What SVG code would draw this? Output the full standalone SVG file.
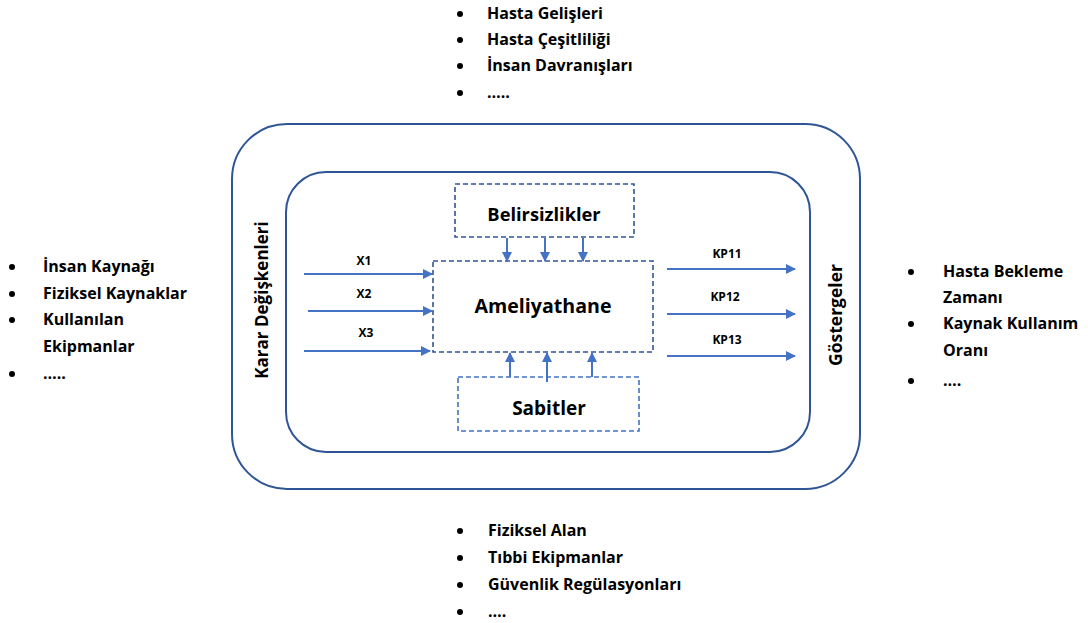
<svg xmlns="http://www.w3.org/2000/svg" width="1088" height="623" viewBox="0 0 1088 623">
<style>
text{font-family:"Open Sans","Liberation Sans",sans-serif;font-weight:bold;fill:#000}
.li{font-size:16px}
.sm{font-size:12px}
.frame{fill:none;stroke:#2F5597;stroke-width:2}
.dash{fill:#fff;stroke:#2F5597;stroke-width:1.6;stroke-dasharray:5 3}
.dash2{fill:#fff;stroke:#4472C4;stroke-width:1.6;stroke-dasharray:5 3}
.arr{stroke:#4472C4;stroke-width:2;fill:none;marker-end:url(#ah)}
</style>
<defs>
<marker id="ah" viewBox="0 0 10 10" refX="9" refY="5" markerWidth="5" markerHeight="5" orient="auto" markerUnits="strokeWidth">
<path d="M0,0 L10,5 L0,10 z" fill="#4472C4"/>
</marker>
</defs>
<rect width="1088" height="623" fill="#fff"/>
<g id="outer"><rect class="frame" x="232" y="124" width="628" height="365" rx="55" ry="55"/>
<text font-size="17" transform="translate(268,300) rotate(-90)" text-anchor="middle">Karar Değişkenleri</text>
<text font-size="17.5" transform="translate(842,315) rotate(-90)" text-anchor="middle">Göstergeler</text></g>
<g id="inner"><rect class="frame" x="286" y="172" width="524" height="280" rx="40" ry="40"/></g>
<g id="belirsizlikler"><rect class="dash" x="455" y="184" width="179" height="53"/>
<text font-size="18.3" x="544" y="221" text-anchor="middle">Belirsizlikler</text></g>
<g id="ameliyathane"><rect class="dash" x="433" y="261" width="220" height="91"/>
<text font-size="19.6" x="543" y="313" text-anchor="middle">Ameliyathane</text></g>
<g id="sabitler"><rect class="dash2" x="458" y="377" width="181" height="54"/>
<text font-size="19" x="549" y="415" text-anchor="middle">Sabitler</text></g>
<g id="connectors">
<line class="arr" x1="507" y1="238" x2="507" y2="261"/>
<line class="arr" x1="545" y1="238" x2="545" y2="261"/>
<line class="arr" x1="583" y1="238" x2="583" y2="261"/>
<line class="arr" x1="510" y1="377" x2="510" y2="353"/>
<line class="arr" x1="547" y1="382" x2="547" y2="353"/>
<line class="arr" x1="592" y1="377" x2="592" y2="353"/>
<line class="arr" x1="304" y1="274" x2="432" y2="274"/>
<line class="arr" x1="308" y1="311" x2="432" y2="311"/>
<line class="arr" x1="304" y1="351" x2="430" y2="351"/>
<line class="arr" x1="667" y1="269" x2="795" y2="269"/>
<line class="arr" x1="667" y1="314" x2="795" y2="314"/>
<line class="arr" x1="667" y1="356" x2="795" y2="356"/>
<text class="sm" x="364" y="265" text-anchor="middle">X1</text>
<text class="sm" x="364" y="298" text-anchor="middle">X2</text>
<text class="sm" x="366" y="337" text-anchor="middle">X3</text>
<text class="sm" x="727" y="258" text-anchor="middle">KP11</text>
<text class="sm" x="725" y="301" text-anchor="middle">KP12</text>
<text class="sm" x="727" y="344" text-anchor="middle">KP13</text>
</g>
<g id="list-top">
<circle cx="460" cy="14" r="3"/><text class="li" x="487" y="19">Hasta Gelişleri</text>
<circle cx="460" cy="40" r="3"/><text class="li" x="487" y="45">Hasta Çeşitliliği</text>
<circle cx="460" cy="66" r="3"/><text class="li" x="487" y="71">İnsan Davranışları</text>
<circle cx="460" cy="93" r="3"/><text class="li" x="487" y="98">…..</text>
</g>
<g id="list-left">
<circle cx="12" cy="267" r="3"/><text class="li" x="43" y="272">İnsan Kaynağı</text>
<circle cx="12" cy="294" r="3"/><text class="li" x="43" y="299">Fiziksel Kaynaklar</text>
<circle cx="12" cy="320" r="3"/><text class="li" x="43" y="325">Kullanılan</text>
<text class="li" x="43" y="352">Ekipmanlar</text>
<circle cx="12" cy="374" r="3"/><text class="li" x="43" y="379">…..</text>
</g>
<g id="list-right">
<circle cx="911" cy="272" r="3"/><text class="li" x="943" y="277">Hasta Bekleme</text>
<text class="li" x="943" y="303">Zamanı</text>
<circle cx="911" cy="324" r="3"/><text class="li" x="943" y="329">Kaynak Kullanım</text>
<text class="li" x="943" y="356">Oranı</text>
<circle cx="911" cy="381" r="3"/><text class="li" x="943" y="386">….</text>
</g>
<g id="list-bottom">
<circle cx="460" cy="531" r="3"/><text class="li" x="488" y="536">Fiziksel Alan</text>
<circle cx="460" cy="558" r="3"/><text class="li" x="488" y="563">Tıbbi Ekipmanlar</text>
<circle cx="460" cy="585" r="3"/><text class="li" x="488" y="590">Güvenlik Regülasyonları</text>
<circle cx="460" cy="612" r="3"/><text class="li" x="488" y="617">….</text>
</g>
</svg>
